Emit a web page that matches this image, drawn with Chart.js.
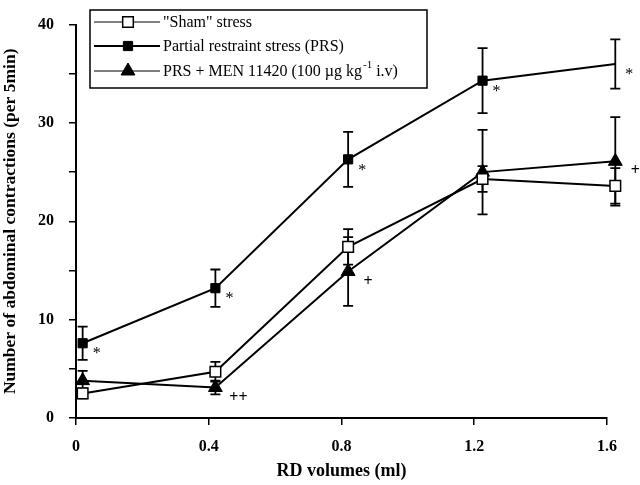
<!DOCTYPE html>
<html>
<head>
<meta charset="utf-8">
<script src="https://cdn.jsdelivr.net/npm/chart.js@4.4.1/dist/chart.umd.min.js"></script>
<style>
  html, body { margin: 0; padding: 0; background: #fff; }
  #wrap { width: 640px; height: 485px; }
</style>
</head>
<body>
<div id="wrap"><canvas id="chart"></canvas></div>
<script>
// Data
const rdVolumes = [0.02, 0.42, 0.82, 1.225, 1.625];
const xTicks = [0, 0.4, 0.8, 1.2, 1.6];

const shamMean = [2.5, 4.7, 17.4, 24.3, 23.6];
const shamErr  = [0.5, 1.0, 1.8, 1.3, 1.8];

const prsMean = [7.6, 13.2, 26.3, 34.3, 36.0];
const prsErr  = [1.7, 1.9, 2.8, 3.3, 2.5];

const menMean = [3.8, 3.1, 14.9, 25.0, 26.1];
const menErr  = [1.0, 0.7, 3.5, 4.3, 4.5];

const prsMarks = ['*', '*', '*', '*', '*'];
const menMarks = ['', '++', '+', '', '+'];

const legendLabels = ['"Sham" stress', 'Partial restraint stress (PRS)', 'PRS + MEN 11420 (100 \u00b5g kg^-1 i.v)'];

const SERIF = '"Liberation Serif", "Times New Roman", serif';

function points(vals) {
    return vals.map((v, i) => ({ x: rdVolumes[i], y: v }));
}

// error bars, drawn under the markers
const errorBars = {
    id: 'errorBars',
    beforeDatasetsDraw(chart) {
        const ctx = chart.ctx, xs = chart.scales.x, ys = chart.scales.y;
        ctx.save();
        ctx.strokeStyle = '#000';
        ctx.lineWidth = 1.8;
        chart.data.datasets.forEach(ds => {
            ds.data.forEach((p, i) => {
                const x = xs.getPixelForValue(p.x);
                const t = ys.getPixelForValue(p.y + ds.errors[i]);
                const b = ys.getPixelForValue(p.y - ds.errors[i]);
                ctx.beginPath();
                ctx.moveTo(x, t); ctx.lineTo(x, b);
                ctx.moveTo(x - 5, t); ctx.lineTo(x + 5, t);
                ctx.moveTo(x - 5, b); ctx.lineTo(x + 5, b);
                ctx.stroke();
            });
        });
        ctx.restore();
    }
};

function drawMarker(ctx, style, r, x, y) {
    if (style === 'triangle') {
        ctx.moveTo(x, y - r);
        ctx.lineTo(x + r * 0.866, y + r * 0.5);
        ctx.lineTo(x - r * 0.866, y + r * 0.5);
        ctx.closePath();
    } else {
        const s = r * Math.SQRT1_2;
        ctx.rect(x - s, y - s, 2 * s, 2 * s);
    }
}

// significance marks + legend box
const extras = {
    id: 'extras',
    afterDatasetsDraw(chart) {
        const ctx = chart.ctx, xs = chart.scales.x, ys = chart.scales.y;
        ctx.save();
        ctx.fillStyle = '#000';
        ctx.textAlign = 'center';
        ctx.textBaseline = 'middle';
        chart.data.datasets.forEach(ds => {
            if (!ds.marks) return;
            ds.data.forEach((p, i) => {
                const m = ds.marks[i];
                if (!m) return;
                const x = xs.getPixelForValue(p.x);
                const y = ys.getPixelForValue(p.y);
                if (m === '*') {
                    ctx.font = '16px ' + SERIF;
                    ctx.fillText(m, x + 14, y + 11);
                } else {
                    ctx.font = 'bold 16px ' + SERIF;
                    ctx.fillText(m, x + (m.length > 1 ? 23 : 20), y + 10);
                }
            });
        });

        // legend
        ctx.lineWidth = 1.5;
        ctx.strokeStyle = '#000';
        ctx.strokeRect(90, 10, 337, 78);
        const rows = [22, 46, 71];
        ctx.textAlign = 'left';
        chart.data.datasets.forEach((ds, i) => {
            const y = rows[i];
            ctx.strokeStyle = '#000';
            ctx.beginPath();
            ctx.lineWidth = i === 1 ? 2 : 1;
            ctx.moveTo(94, y); ctx.lineTo(160, y);
            ctx.stroke();
            ctx.fillStyle = ds.pointBackgroundColor;
            ctx.lineWidth = ds.pointBorderWidth;
            ctx.beginPath();
            drawMarker(ctx, ds.pointStyle, ds.pointRadius, 128, y);
            ctx.fill();
            ctx.stroke();
            ctx.fillStyle = '#000';
            // label with optional superscript
            const parts = legendLabels[i].split(/\^(\S+)/);
            let tx = 163;
            parts.forEach((part, k) => {
                if (k % 2 === 1) {
                    ctx.font = '11px ' + SERIF;
                    ctx.fillText(part, tx + 1, y - 6);
                    tx += ctx.measureText(part).width + 1;
                } else {
                    ctx.font = '16px ' + SERIF;
                    ctx.fillText(part, tx, y + 1);
                    tx += ctx.measureText(part).width;
                }
            });
        });
        ctx.restore();
    }
};

const datasets = [
    {
        label: legendLabels[0],
        data: points(shamMean),
        errors: shamErr,
        pointStyle: 'rect',
        pointRadius: 7.5,
        pointBackgroundColor: '#fff',
        pointBorderWidth: 1.5
    },
    {
        label: legendLabels[1],
        data: points(prsMean),
        errors: prsErr,
        marks: prsMarks,
        pointStyle: 'rect',
        pointRadius: 6.5,
        pointBackgroundColor: '#000',
        pointBorderWidth: 1
    },
    {
        label: legendLabels[2],
        data: points(menMean),
        errors: menErr,
        marks: menMarks,
        pointStyle: 'triangle',
        pointRadius: 8,
        pointBackgroundColor: '#000',
        pointBorderWidth: 1
    }
].map(ds => Object.assign({
    showLine: true,
    borderColor: '#000',
    borderWidth: 2,
    pointBorderColor: '#000',
    clip: false
}, ds));

new Chart(document.getElementById('chart').getContext('2d'), {
    type: 'scatter',
    data: { datasets: datasets },
    options: {
        responsive: true,
        maintainAspectRatio: false,
        animation: false,
        layout: { padding: { top: 7, right: 33, left: 0, bottom: 0 } },
        plugins: {
            legend: { display: false },
            tooltip: { enabled: false }
        },
        scales: {
            x: {
                type: 'linear',
                min: 0,
                max: 1.6,
                afterBuildTicks: scale => { scale.ticks = xTicks.map(v => ({ value: v })); },
                afterFit: scale => { scale.height = 67; },
                ticks: {
                    color: '#000',
                    padding: 12,
                    font: { family: SERIF, size: 16, weight: 'bold' },
                    callback: v => String(v)
                },
                grid: { drawOnChartArea: false, drawTicks: true, tickLength: 7, color: '#000', lineWidth: 1.5 },
                border: { display: true, color: '#000', width: 2 },
                title: {
                    display: true,
                    text: 'RD volumes (ml)',
                    color: '#000',
                    padding: { top: 0, bottom: 3 },
                    font: { family: SERIF, size: 18, weight: 'bold' }
                }
            },
            y: {
                min: 0,
                max: 40,
                afterFit: scale => { scale.width = 76; },
                ticks: {
                    stepSize: 5,
                    color: '#000',
                    padding: 15,
                    font: { family: SERIF, size: 16, weight: 'bold' },
                    callback: v => (v % 10 === 0 ? v : '')
                },
                grid: { drawOnChartArea: false, drawTicks: true, tickLength: 7, color: '#000', lineWidth: 1.5 },
                border: { display: true, color: '#000', width: 2 },
                title: {
                    display: true,
                    text: 'Number of abdominal contractions (per 5min)',
                    color: '#000',
                    padding: { top: 0, bottom: 4 },
                    font: { family: SERIF, size: 17.5, weight: 'bold' }
                }
            }
        }
    },
    plugins: [errorBars, extras]
});
</script>
</body>
</html>
